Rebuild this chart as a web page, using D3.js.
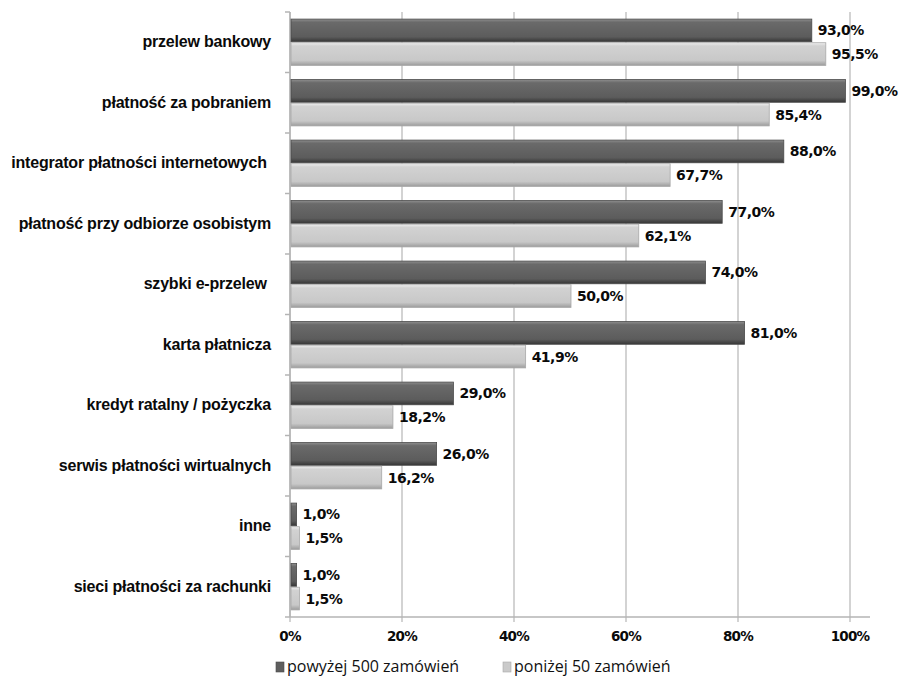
<!DOCTYPE html>
<html>
<head>
<meta charset="utf-8">
<script src="https://cdnjs.cloudflare.com/ajax/libs/d3/7.8.5/d3.min.js"></script>
<style>
    body { margin: 0; background: #ffffff; }
    .cat_label { font-family: "Liberation Sans", Arial, sans-serif; font-weight: bold; font-size: 16px; fill: #0a0a0a; letter-spacing: -0.2px; }
    .value_label { font-family: "DejaVu Sans", sans-serif; font-weight: bold; font-size: 14px; fill: #0a0a0a; letter-spacing: -0.5px; }
    .tick_label { font-family: "DejaVu Sans", sans-serif; font-weight: bold; font-size: 13.5px; fill: #0a0a0a; letter-spacing: -0.8px; }
    .legend_label { font-family: "Open Sans", sans-serif; font-size: 16px; fill: #111; }
</style>
</head>
<body>
<div id="chart"></div>
<script>
    // categories (top to bottom)
    var categories = [
        "przelew bankowy",
        "płatność za pobraniem",
        "integrator płatności internetowych ",
        "płatność przy odbiorze osobistym",
        "szybki e-przelew ",
        "karta płatnicza",
        "kredyt ratalny / pożyczka",
        "serwis płatności wirtualnych",
        "inne",
        "sieci płatności za rachunki"
    ];
    var seriesNames = ["powyżej 500 zamówień", "poniżej 50 zamówień"];
    var over500 = [93.0, 99.0, 88.0, 77.0, 74.0, 81.0, 29.0, 26.0, 1.0, 1.0];
    var under50 = [95.5, 85.4, 67.7, 62.1, 50.0, 41.9, 18.2, 16.2, 1.5, 1.5];
    var xTicks = [0, 20, 40, 60, 80, 100];

    var width = 900, height = 683;
    var margin = {top: 12, left: 290, bottom: 66, right: 30};
    var plotRight = width - margin.right;
    var plotBottom = height - margin.bottom;

    var svg = d3.select('#chart').append('svg')
            .attr('width', width)
            .attr('height', height);

    // gradients for the bevelled bars
    var defs = svg.append('defs');
    var gradients = [
        {id: 'grad_dark', stops: [['0%', '#8e8e8e'], ['14%', '#6a6a6a'], ['78%', '#5c5c5c'], ['100%', '#363636']]},
        {id: 'grad_light', stops: [['0%', '#efefef'], ['14%', '#d2d2d2'], ['78%', '#c8c8c8'], ['100%', '#9c9c9c']]}
    ];
    gradients.forEach(function(g) {
        var lg = defs.append('linearGradient')
                .attr('id', g.id)
                .attr('x1', 0).attr('y1', 0).attr('x2', 0).attr('y2', 1);
        g.stops.forEach(function(s) {
            lg.append('stop').attr('offset', s[0]).attr('stop-color', s[1]);
        });
    });
    var legendColors = ['#5e5e5e', '#cacaca'];

    // scales
    var x = d3.scaleLinear().domain([0, 100]).range([margin.left, margin.left + 560]);
    var y0 = d3.scaleBand().domain(categories).range([margin.top, plotBottom]).padding(0);
    var y1 = d3.scaleBand().domain([0, 1]).range([0, y0.bandwidth()]).paddingInner(0.04).paddingOuter(0.3);

    // vertical gridlines
    svg.append('g').selectAll('line').data(xTicks)
        .enter()
        .append('line')
        .attr('x1', function(d) { return x(d); })
        .attr('x2', function(d) { return x(d); })
        .attr('y1', margin.top)
        .attr('y2', plotBottom + 5)
        .attr('stroke', '#c4c4c4')
        .attr('stroke-width', 1.5);

    // bottom axis line
    svg.append('line')
        .attr('x1', margin.left).attr('x2', plotRight)
        .attr('y1', plotBottom).attr('y2', plotBottom)
        .attr('stroke', '#b4b4b4').attr('stroke-width', 1.5);

    // left axis line with ticks between categories
    svg.append('line')
        .attr('x1', margin.left).attr('x2', margin.left)
        .attr('y1', margin.top).attr('y2', plotBottom)
        .attr('stroke', '#b4b4b4').attr('stroke-width', 1.5);
    var boundaries = categories.map(function(c) { return y0(c); }).concat([plotBottom]);
    svg.append('g').selectAll('line').data(boundaries)
        .enter()
        .append('line')
        .attr('x1', margin.left - 5).attr('x2', margin.left)
        .attr('y1', function(d) { return d; })
        .attr('y2', function(d) { return d; })
        .attr('stroke', '#b4b4b4').attr('stroke-width', 1.5);

    // x tick labels
    svg.append('g').selectAll('text').data(xTicks)
        .enter()
        .append('text')
        .attr('class', 'tick_label')
        .attr('x', function(d) { return x(d); })
        .attr('y', plotBottom + 24)
        .attr('text-anchor', 'middle')
        .text(function(d) { return d + '%'; });

    // category labels
    svg.append('g').selectAll('text').data(categories)
        .enter()
        .append('text')
        .attr('class', 'cat_label')
        .attr('x', 271)
        .attr('y', function(d) { return y0(d) + y0.bandwidth() / 2 + 5; })
        .attr('text-anchor', 'end')
        .attr('xml:space', 'preserve')
        .text(function(d) { return d; });

    // bars + value labels
    var series = [over500, under50];
    var fills = ['url(#grad_dark)', 'url(#grad_light)'];
    var strokes = ['#4a4a4a', '#a8a8a8'];
    series.forEach(function(values, si) {
        var g = svg.append('g').attr('class', 'series_' + si);
        g.selectAll('rect').data(values)
            .enter()
            .append('rect')
            .attr('x', x(0) + 1)
            .attr('y', function(d, i) { return y0(categories[i]) + y1(si); })
            .attr('width', function(d) { return Math.max(x(d) - x(0), 3); })
            .attr('height', y1.bandwidth())
            .attr('fill', fills[si])
            .attr('stroke', strokes[si])
            .attr('stroke-width', 0.8);
        g.selectAll('text').data(values)
            .enter()
            .append('text')
            .attr('class', 'value_label')
            .attr('x', function(d) { return x(d) + 7; })
            .attr('y', function(d, i) { return y0(categories[i]) + y1(si) + y1.bandwidth() / 2 + 5; })
            .text(function(d) { return d.toFixed(1).replace('.', ',') + '%'; });
    });

    // legend
    var legendX = [276, 503];
    var legend = svg.append('g').selectAll('g').data(seriesNames)
        .enter()
        .append('g')
        .attr('transform', function(d, i) { return 'translate(' + legendX[i] + ',' + 668 + ')'; });
    legend.append('rect')
        .attr('x', 0).attr('y', -6)
        .attr('width', 8).attr('height', 10)
        .attr('fill', function(d, i) { return legendColors[i]; })
        .attr('stroke', function(d, i) { return strokes[i]; })
        .attr('stroke-width', 0.6);
    legend.append('text')
        .attr('class', 'legend_label')
        .attr('x', 11)
        .attr('y', 4)
        .text(function(d) { return d; });
</script>
</body>
</html>
